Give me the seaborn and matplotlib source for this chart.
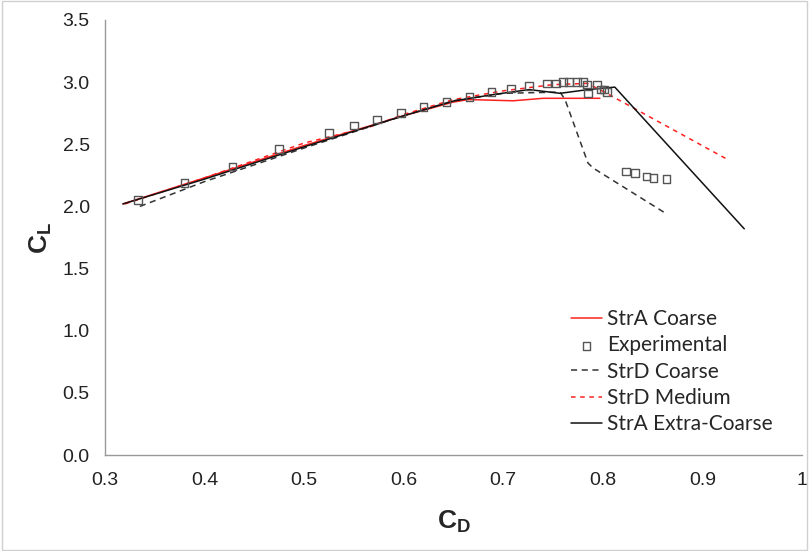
import matplotlib
matplotlib.use("Agg")
import matplotlib.pyplot as plt
import seaborn as sns
import pandas as pd
from matplotlib.patches import Rectangle

# ---- data ----
exp_cd = [0.333, 0.380, 0.428, 0.475, 0.525, 0.550, 0.573, 0.597, 0.620, 0.643,
          0.666, 0.688, 0.708, 0.726, 0.744, 0.753, 0.760, 0.766, 0.774, 0.780,
          0.784, 0.785, 0.794, 0.798, 0.801, 0.804,
          0.823, 0.832, 0.844, 0.851, 0.864]
exp_cl = [2.05, 2.19, 2.32, 2.46, 2.59, 2.65, 2.70, 2.75, 2.80, 2.84,
          2.88, 2.92, 2.95, 2.97, 2.99, 2.99, 3.00, 3.00, 3.00, 3.00,
          2.98, 2.91, 2.98, 2.94, 2.94, 2.92,
          2.28, 2.27, 2.24, 2.23, 2.22]

strA_coarse_cd = [0.318, 0.40, 0.50, 0.60, 0.650, 0.665, 0.710, 0.740, 0.770, 0.797]
strA_coarse_cl = [2.02, 2.23, 2.49, 2.73, 2.84, 2.86, 2.85, 2.87, 2.87, 2.87]

strD_coarse_cd = [0.335, 0.400, 0.500, 0.600, 0.650, 0.700, 0.757, 0.762, 0.785, 0.790, 0.862]
strD_coarse_cl = [2.00, 2.20, 2.47, 2.73, 2.85, 2.91, 2.92, 2.86, 2.35, 2.31, 1.95]

strD_medium_cd = [0.320, 0.400, 0.500, 0.566, 0.600, 0.650, 0.700, 0.750, 0.784, 0.797, 0.927]
strD_medium_cl = [2.02, 2.23, 2.51, 2.64, 2.74, 2.86, 2.93, 2.98, 2.99, 2.94, 2.37]

strA_xc_cd = [0.318, 0.400, 0.500, 0.600, 0.651, 0.690, 0.726, 0.757, 0.785, 0.812, 0.942]
strA_xc_cl = [2.02, 2.22, 2.48, 2.73, 2.85, 2.90, 2.94, 2.91, 2.94, 2.96, 1.82]

x_ticks = [0.3, 0.4, 0.5, 0.6, 0.7, 0.8, 0.9, 1.0]
x_tick_labels = ["0.3", "0.4", "0.5", "0.6", "0.7", "0.8", "0.9", "1"]
y_ticks = [0.0, 0.5, 1.0, 1.5, 2.0, 2.5, 3.0, 3.5]
y_tick_labels = ["0.0", "0.5", "1.0", "1.5", "2.0", "2.5", "3.0", "3.5"]

# ---- style ----
sns.set_style("white")
plt.rcParams["font.family"] = ["Liberation Sans", "DejaVu Sans"]
plt.rcParams["mathtext.fontset"] = "custom"
plt.rcParams["mathtext.rm"] = "Liberation Sans"
plt.rcParams["mathtext.bf"] = "Liberation Sans:bold"

fig = plt.figure(figsize=(8.09, 5.51), dpi=100)
ax = fig.add_axes([105/809, 1 - 455/551, (802-105)/809, (455-20)/551])

def line(xs, ys, color, ls, label):
    df = pd.DataFrame({"CD": xs, "CL": ys})
    sns.lineplot(data=df, x="CD", y="CL", sort=False, estimator=None, ax=ax,
                 color=color, linestyle=ls, linewidth=1.1, label=label)

line(strA_coarse_cd, strA_coarse_cl, "#ff2020", "-", "StrA Coarse")
df_exp = pd.DataFrame({"CD": exp_cd, "CL": exp_cl})
sns.scatterplot(data=df_exp, x="CD", y="CL", marker="s", s=30, facecolor="none",
                edgecolor="#555555", linewidth=1.0, ax=ax, label="Experimental", zorder=3)
line(strD_coarse_cd, strD_coarse_cl, "#333333", (0, (4, 3)), "StrD Coarse")
line(strD_medium_cd, strD_medium_cl, "#ff2020", (0, (3, 3)), "StrD Medium")
line(strA_xc_cd, strA_xc_cl, "#111111", "-", "StrA Extra-Coarse")

ax.set_xlim(0.3, 1.0)
ax.set_ylim(0.0, 3.5)
ax.set_xticks(x_ticks)
ax.set_xticklabels(x_tick_labels, fontsize=14, family=["Liberation Sans Narrow", "Liberation Sans"])
ax.set_yticks(y_ticks)
ax.set_yticklabels(y_tick_labels, fontsize=14, family=["Liberation Sans"])

for s in ["top", "right"]:
    ax.spines[s].set_visible(False)
for s in ["left", "bottom"]:
    ax.spines[s].set_color("#999999")
    ax.spines[s].set_linewidth(1.0)
ax.tick_params(axis="x", direction="inout", length=9, color="#999999", pad=8, labelcolor="#222222")
ax.tick_params(axis="y", direction="out", length=5, color="#999999", pad=6, labelcolor="#222222")

ax.set_xlabel(r"$\mathbf{C_D}$", fontsize=19, labelpad=14)
ax.set_ylabel(r"$\mathbf{C_L}$", fontsize=19, labelpad=6)

leg = ax.legend(loc="lower right", bbox_to_anchor=(0.985, 0.005), frameon=False,
                handlelength=1.5, handletextpad=0.25, labelspacing=0.3,
                prop={"family": ["Lato", "DejaVu Sans"], "size": 15})

fig.patches.append(Rectangle((0.002, 0.002), 0.996, 0.996, transform=fig.transFigure,
                             fill=False, edgecolor="#d0d0d0", linewidth=1.0))

fig.savefig("out.png", dpi=100)
